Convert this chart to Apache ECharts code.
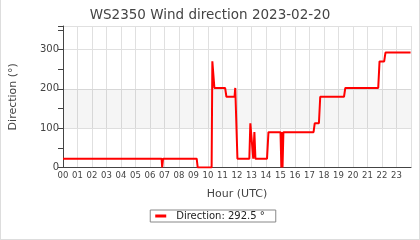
<!DOCTYPE html>
<html><head><meta charset="utf-8">
<script src="https://cdn.jsdelivr.net/npm/echarts@6/dist/echarts.min.js"></script>
<style>
html,body{margin:0;padding:0;background:#fff;}
#wrap{position:absolute;left:0;top:0;width:420px;height:240px;box-sizing:border-box;border-left:1px solid #ddd;border-right:1px solid #ddd;border-bottom:1px solid #ddd;}
#c{position:absolute;left:0;top:0;width:420px;height:240px;}
</style></head>
<body><div id="wrap"></div><div id="c"></div>
<script>
var titleText = "WS2350 Wind direction 2023-02-20";
var seriesName = "Direction";
var hours = [0, 6.80, 6.84, 6.90, 9.22, 9.29, 10.25, 10.30, 10.44, 11.18, 11.27, 11.83, 11.88, 12.03,
  12.85, 12.92, 12.98, 13.03, 13.12, 13.20, 13.27, 14.07, 14.17, 15.00, 15.06, 15.10, 15.14, 15.20,
  17.28, 17.36, 17.65, 17.74, 19.38, 19.47, 21.74, 21.83, 22.15, 22.24, 23.97];
var direction = [22.5, 22.5, 0, 22.5, 22.5, 0, 0, 270, 202.5, 202.5, 180, 180, 202.5, 22.5,
  22.5, 112.5, 112.5, 112.5, 22.5, 90, 22.5, 22.5, 90, 90, 0, 90, 0, 90,
  90, 112.5, 112.5, 180, 180, 202.5, 202.5, 270, 270, 292.5, 292.5];
var hourLabels = ["00","01","02","03","04","05","06","07","08","09","10","11","12","13","14","15","16","17","18","19","20","21","22","23"];
var yLabels = [0, 100, 200, 300];
var bandRange = [100, 200];

var FONT = "DejaVu Sans";
var data = hours.map(function(h, i){ return [h, direction[i]]; });
var last = direction[direction.length - 1];

var chart = echarts.init(document.getElementById('c'), null, {renderer:'canvas'});
chart.setOption({
  animation: false,
  title: {text: titleText, left: 'center', top: 3,
    textStyle: {fontFamily: FONT, fontSize: 13.5, fontWeight: 'normal', color: '#444'}},
  grid: {left: 63, right: 9, top: 26, bottom: 72.5},
  legend: {
    bottom: 18, left: 'center', data: [seriesName],
    borderColor: '#888', borderWidth: 1, borderRadius: 0,
    padding: [1, 11, 1, 5],
    icon: 'rect', itemWidth: 11, itemHeight: 3,
    formatter: function(n){ return n + ': ' + last + ' °'; },
    textStyle: {fontFamily: FONT, fontSize: 10, color: '#222', padding: [0,0,0,5]}
  },
  xAxis: {
    type: 'value', min: 0, max: 24, interval: 1,
    name: 'Hour (UTC)', nameLocation: 'middle', nameGap: 21,
    nameTextStyle: {fontFamily: FONT, fontSize: 11, color: '#444'},
    axisLine: {show: true, lineStyle: {color: '#444', width: 1}},
    axisTick: {show: false},
    axisLabel: {fontFamily: FONT, fontSize: 8.5, color: '#444', margin: 4,
      formatter: function(v){ var i = Math.round(v); return i < hourLabels.length ? hourLabels[i] : ''; }},
    splitLine: {show: true, lineStyle: {color: '#e0e0e0', width: 1}}
  },
  yAxis: [{
    type: 'value', min: 0, max: 360, interval: 50,
    name: 'Direction (°)', nameLocation: 'middle', nameGap: 44,
    nameTextStyle: {fontFamily: FONT, fontSize: 11, color: '#444'},
    axisLine: {show: true, lineStyle: {color: '#444', width: 1}},
    axisTick: {show: true, length: 5, lineStyle: {color: '#444'}},
    axisLabel: {fontFamily: FONT, fontSize: 10, color: '#444', margin: 4,
      formatter: function(v){ return yLabels.indexOf(v) >= 0 ? String(v) : ''; }},
    splitLine: {show: false}
  }, {
    type: 'value', min: 0, max: 360, interval: 100, position: 'left',
    axisLine: {show: false}, axisTick: {show: false}, axisLabel: {show: false},
    splitLine: {show: true, lineStyle: {color: '#e0e0e0', width: 1}}
  }],
  series: [{
    name: seriesName, type: 'line', data: data, showSymbol: false, symbol: 'none',
    lineStyle: {color: '#ff0000', width: 2}, itemStyle: {color: '#ff0000'},
    markArea: {silent: true, itemStyle: {color: 'rgba(0,0,0,0.04)'},
      data: [[{yAxis: bandRange[0]}, {yAxis: bandRange[1]}]]}
  }]
});
</script></body></html>
